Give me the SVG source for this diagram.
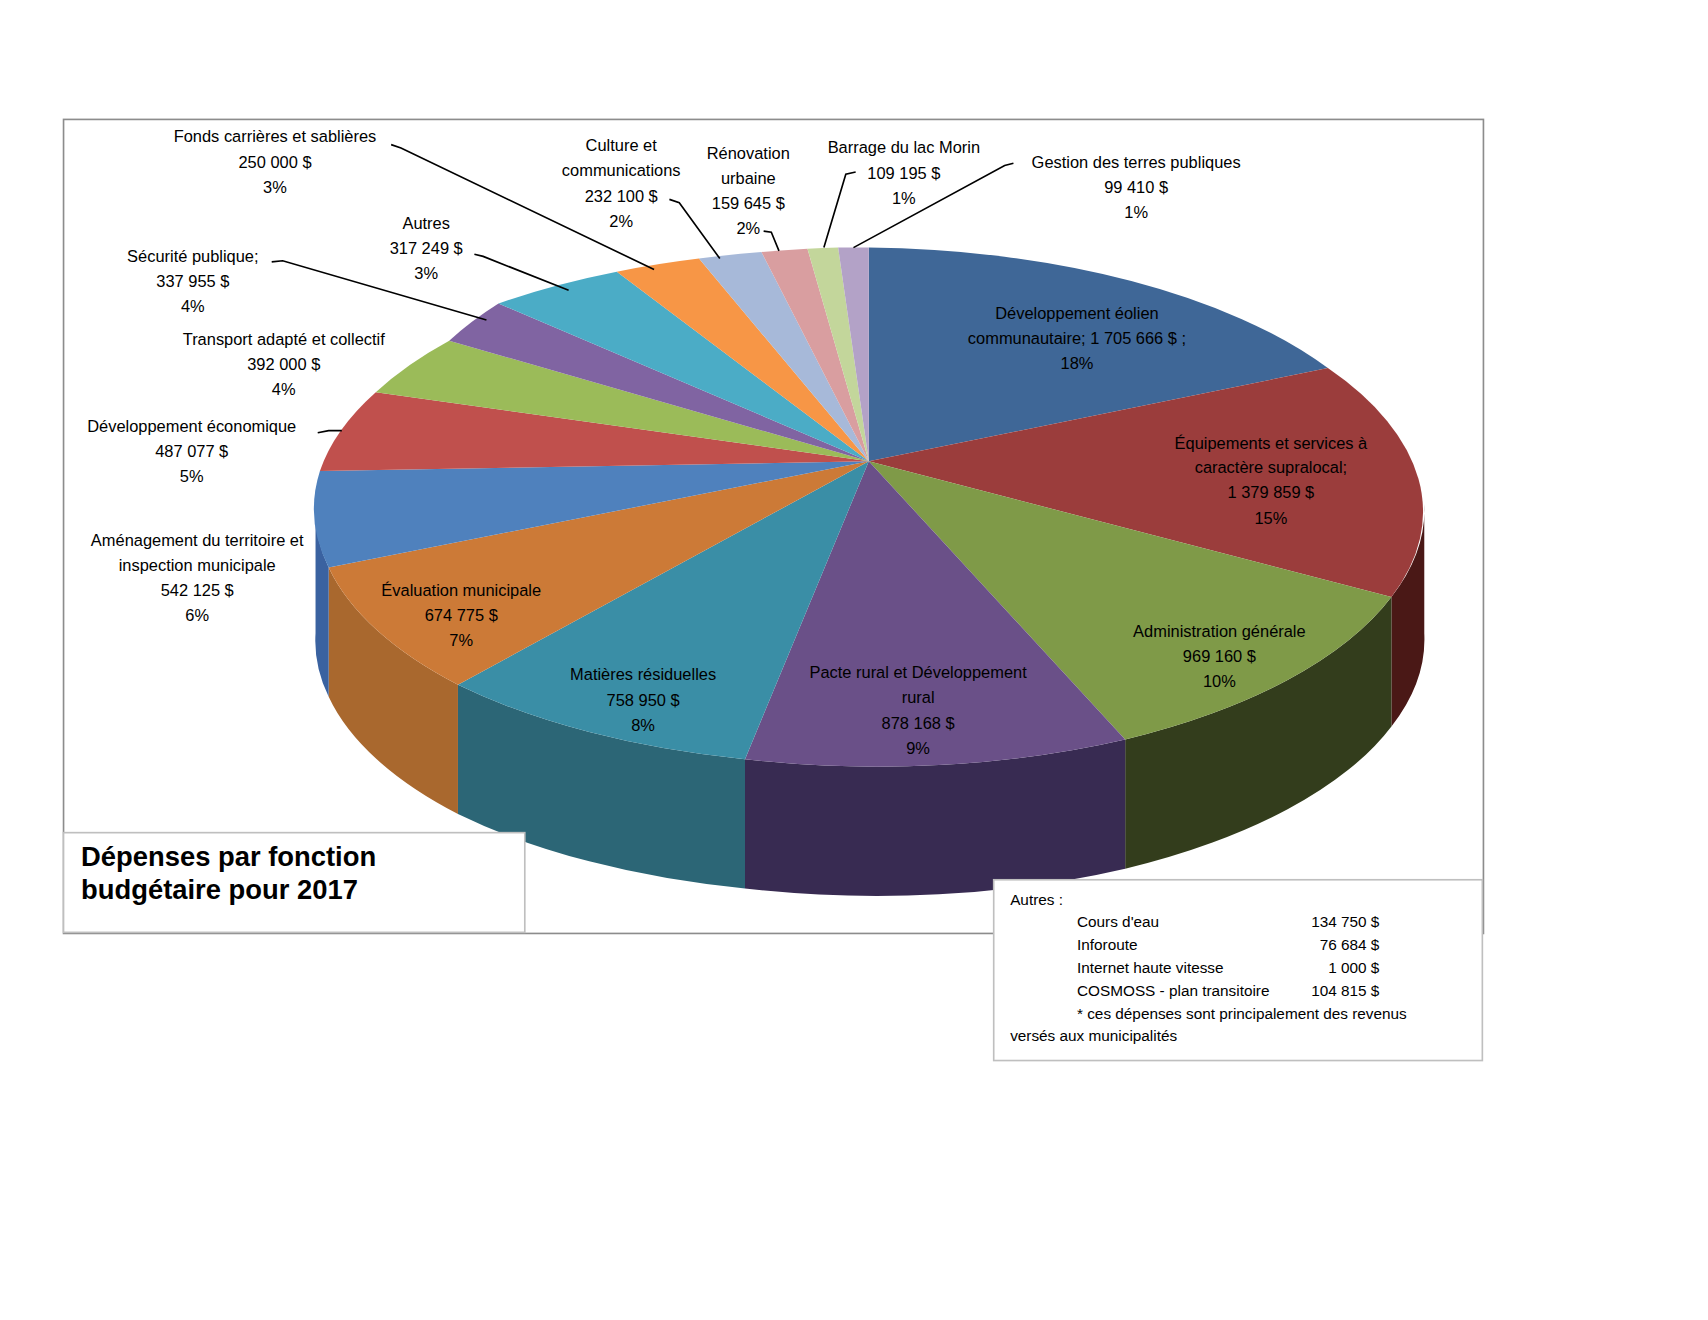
<svg xmlns="http://www.w3.org/2000/svg" width="1708" height="1320" viewBox="0 0 1708 1320">
<style>
text{font-family:"Liberation Sans",Arial,sans-serif;font-size:15px;fill:#000}
.c{text-anchor:middle}
.r{text-anchor:end}
.lg text{font-size:14px}
.t{font-size:25px;font-weight:bold}
.ld{fill:none;stroke:#000;stroke-width:1.5}
</style>
<rect width="1708" height="1320" fill="#fff"/>
<g transform="scale(1.0956)">
<rect id="frame" x="58" y="109" width="1296" height="743" fill="#fff" stroke="#8c8c8c" stroke-width="1.5"/>
<g id="pie">
<g id="sides">
<path d="M1300,460 A506,234 0 0 1 1270,545 L1270,663 A506,234 0 0 0 1300,578 Z" fill="#4a1816"/>
<path d="M1270,545 A506,234 0 0 1 1027,675 L1027,793 A506,234 0 0 0 1270,663 Z" fill="#333d1c"/>
<path d="M1027,675 A506,234 0 0 1 680,693 L680,811 A506,234 0 0 0 1027,793 Z" fill="#382b52"/>
<path d="M680,693 A506,234 0 0 1 418,625 L418,743 A506,234 0 0 0 680,811 Z" fill="#2c6676"/>
<path d="M418,625 A506,234 0 0 1 300,518 L300,636 A506,234 0 0 0 418,743 Z" fill="#a9682e"/>
<path d="M300,518 A506,234 0 0 1 288,460 L288,578 A506,234 0 0 0 300,636 Z" fill="#3a62a0"/>
</g>
<g id="top">
<path d="M793,421 L793,226 A506,234 0 0 1 1212,336 Z" fill="#3f6797"/>
<path d="M793,421 L1212,336 A506,234 0 0 1 1270,545 Z" fill="#9b3d3c"/>
<path d="M793,421 L1270,545 A506,234 0 0 1 1027,675 Z" fill="#7f9a48"/>
<path d="M793,421 L1027,675 A506,234 0 0 1 680,693 Z" fill="#6a5088"/>
<path d="M793,421 L680,693 A506,234 0 0 1 418,625 Z" fill="#3a8ea6"/>
<path d="M793,421 L418,625 A506,234 0 0 1 300,518 Z" fill="#cc7a37"/>
<path d="M793,421 L300,518 A506,234 0 0 1 292,430 Z" fill="#4f81bd"/>
<path d="M793,421 L292,430 A506,234 0 0 1 343,358 Z" fill="#c0504d"/>
<path d="M793,421 L343,358 A506,234 0 0 1 410,311 Z" fill="#9bbb59"/>
<path d="M793,421 L410,311 A506,234 0 0 1 455,277 Z" fill="#8064a2"/>
<path d="M793,421 L455,277 A506,234 0 0 1 563,248 Z" fill="#4bacc6"/>
<path d="M793,421 L563,248 A506,234 0 0 1 638,236 Z" fill="#f79646"/>
<path d="M793,421 L638,236 A506,234 0 0 1 695,230 Z" fill="#a7b9d9"/>
<path d="M793,421 L695,230 A506,234 0 0 1 737,227 Z" fill="#d99ea0"/>
<path d="M793,421 L737,227 A506,234 0 0 1 765,226 Z" fill="#c3d69b"/>
<path d="M793,421 L765,226 A506,234 0 0 1 793,226 Z" fill="#b3a2c7"/>
</g>
</g>
<g id="connectors">
<path class="ld" d="M357,132 L366,135 L597,246"/>
<path class="ld" d="M611,182 L620,185 L657,236"/>
<path class="ld" d="M697,211 L704,212 L711,229"/>
<path class="ld" d="M781,157 L772,159 L752,226"/>
<path class="ld" d="M925,149 L917,151 L779,226"/>
<path class="ld" d="M433,232 L441,234 L519,265"/>
<path class="ld" d="M248,239 L258,238 L444,292"/>
<path class="ld" d="M290,395 L300,393 L312,393"/>
</g>
<g id="labels">
<text class="c" x="251" y="130">Fonds carrières et sablières</text><text class="c" x="251" y="153">250 000  $</text><text class="c" x="251" y="176">3%</text>
<text class="c" x="567" y="138">Culture et</text><text class="c" x="567" y="161">communications</text><text class="c" x="567" y="184">232 100  $</text><text class="c" x="567" y="207">2%</text>
<text class="c" x="683" y="145">Rénovation</text><text class="c" x="683" y="168">urbaine</text><text class="c" x="683" y="191">159 645  $</text><text class="c" x="683" y="214">2%</text>
<text class="c" x="825" y="140">Barrage du lac Morin</text><text class="c" x="825" y="163">109 195  $</text><text class="c" x="825" y="186">1%</text>
<text class="c" x="1037" y="153">Gestion des terres publiques</text><text class="c" x="1037" y="176">99 410  $</text><text class="c" x="1037" y="199">1%</text>
<text class="c" x="389" y="209">Autres</text><text class="c" x="389" y="232">317 249  $</text><text class="c" x="389" y="255">3%</text>
<text class="c" x="176" y="239">Sécurité publique;</text><text class="c" x="176" y="262">337 955  $</text><text class="c" x="176" y="285">4%</text>
<text class="c" x="259" y="315">Transport adapté et collectif</text><text class="c" x="259" y="338">392 000  $</text><text class="c" x="259" y="361">4%</text>
<text class="c" x="175" y="394">Développement économique</text><text class="c" x="175" y="417">487 077  $</text><text class="c" x="175" y="440">5%</text>
<text class="c" x="180" y="498">Aménagement du territoire et</text><text class="c" x="180" y="521">inspection municipale</text><text class="c" x="180" y="544">542 125  $</text><text class="c" x="180" y="567">6%</text>
<text class="c" x="421" y="544">Évaluation municipale</text><text class="c" x="421" y="567">674 775  $</text><text class="c" x="421" y="590">7%</text>
<text class="c" x="587" y="621">Matières résiduelles</text><text class="c" x="587" y="644">758 950  $</text><text class="c" x="587" y="667">8%</text>
<text class="c" x="838" y="619">Pacte rural et Développement</text><text class="c" x="838" y="642">rural</text><text class="c" x="838" y="665">878 168  $</text><text class="c" x="838" y="688">9%</text>
<text class="c" x="1113" y="581">Administration générale</text><text class="c" x="1113" y="604">969 160  $</text><text class="c" x="1113" y="627">10%</text>
<text class="c" x="1160" y="410">Équipements et services à</text><text class="c" x="1160" y="432">caractère supralocal;</text><text class="c" x="1160" y="455">1 379 859  $</text><text class="c" x="1160" y="478">15%</text>
<text class="c" x="983" y="291">Développement éolien</text><text class="c" x="983" y="314">communautaire;  1 705 666  $ ;</text><text class="c" x="983" y="337">18%</text>
</g>
<g id="title">
<rect x="58" y="760" width="421" height="91" fill="#fff" stroke="#bfbfbf" stroke-width="1.5"/>
<text class="t" x="74" y="790">Dépenses par fonction</text>
<text class="t" x="74" y="821">budgétaire pour 2017</text>
</g>
<g id="legend" class="lg">
<rect x="907" y="803" width="446" height="165" fill="#fff" stroke="#bfbfbf" stroke-width="1.5"/>
<text x="922" y="826">Autres :</text>
<text x="983" y="846">Cours d'eau</text><text class="r" x="1259" y="846">134 750 $</text>
<text x="983" y="867">Inforoute</text><text class="r" x="1259" y="867">76 684 $</text>
<text x="983" y="888">Internet haute vitesse</text><text class="r" x="1259" y="888">1 000 $</text>
<text x="983" y="909">COSMOSS  - plan transitoire</text><text class="r" x="1259" y="909">104 815 $</text>
<text x="983" y="930">* ces dépenses sont principalement des revenus</text>
<text x="922" y="950">versés aux municipalités</text>
</g>
</g>
</svg>
